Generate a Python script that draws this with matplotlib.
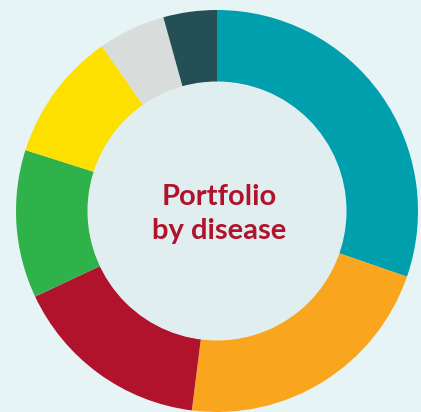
import matplotlib
matplotlib.use('Agg')
import matplotlib.pyplot as plt
from matplotlib.patches import Circle

# shares of the portfolio (percent), clockwise from 12 o'clock
shares = [30.3, 21.7, 16.0, 11.9, 10.4, 5.4, 4.3]
colors = ['#009fae', '#f9a51d', '#b0132b', '#30b24b', '#fde000', '#d8dcdb', '#244f54']
center_text = 'Portfolio\nby disease'

bg = '#e6f4f5'
hole = '#e0eef0'

W, H = 421, 412
fig = plt.figure(figsize=(W / 100, H / 100), dpi=100, facecolor=bg)
ax = fig.add_axes([0, 0, 1, 1])

cx, cy = 217, H - 211
R, r = 201, 129

ax.pie(shares, colors=colors, startangle=90, counterclock=False,
       center=(cx, cy), radius=R,
       wedgeprops=dict(width=R - r, linewidth=0, antialiased=True))
ax.add_patch(Circle((cx, cy), r + 0.5, facecolor=hole, edgecolor='none', zorder=3))

ax.text(cx + 2, H - 214, center_text, ha='center', va='center', color='#b0132b',
        fontsize=21, fontweight='bold', family='Lato', linespacing=1.35, zorder=4)

ax.set_xlim(0, W)
ax.set_ylim(0, H)
ax.set_aspect('equal')
ax.axis('off')

fig.savefig('out.png', dpi=100, facecolor=bg)
